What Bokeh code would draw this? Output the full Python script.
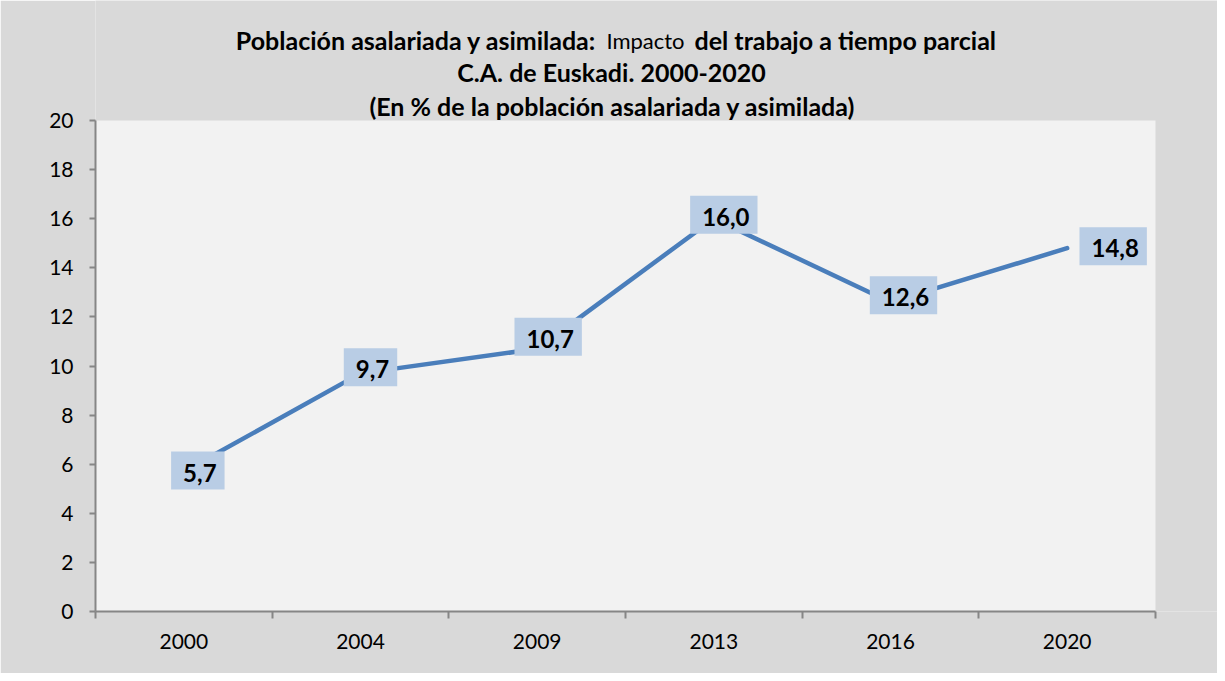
from bokeh.plotting import figure
from bokeh.models import Label, Range1d, FixedTicker
from bokeh.embed import file_html
from bokeh.resources import INLINE

# ---- data ----
years = ["2000", "2004", "2009", "2013", "2016", "2020"]
values = [5.7, 9.7, 10.7, 16.0, 12.6, 14.8]
y_ticks = [0, 2, 4, 6, 8, 10, 12, 14, 16, 18, 20]

title_a = "Población asalariada y asimilada:"
title_b = "Impacto"
title_c = "del trabajo a tiempo parcial"
title_2 = "C.A. de Euskadi. 2000-2020"
title_3 = "(En % de la población asalariada y asimilada)"

# ---- layout / style (pixels) ----
W, H = 1217, 673
BORDER_L, BORDER_B = 95, 62
PLOT_W, PLOT_H = 1060, 491          # size of the light plot area
label_dx = [14, 10, 11, 10, 13, 46]
label_dy = [1, 6, 12, 4, 7, 2]
FONT = "Lato"
AXIS_COLOR = "#868686"

xs = list(range(len(years)))
texts = [f"{v:.1f}".replace(".", ",") for v in values]

x0, x1 = -0.5, len(years) - 0.5
y0, y1 = y_ticks[0], y_ticks[-1]
frame_w, frame_h = W - BORDER_L, H - BORDER_B
x_end = x0 + (x1 - x0) * frame_w / PLOT_W
y_end = y0 + (y1 - y0) * frame_h / PLOT_H

p = figure(width=W, height=H, output_backend="svg", toolbar_location=None,
           x_range=Range1d(x0, x_end), y_range=Range1d(y0, y_end),
           min_border_left=BORDER_L, min_border_right=0, min_border_top=0,
           min_border_bottom=BORDER_B)
p.background_fill_color = "#d9d9d9"
p.border_fill_color = "#d9d9d9"
p.outline_line_color = None
p.xgrid.visible = False
p.ygrid.visible = False

# plot area background
p.quad(left=[x0], right=[x1], bottom=[y0], top=[y1],
       fill_color="#f2f2f2", line_color=None)

p.line(xs, values, line_color="#4a7ebb", line_width=4.5,
       line_cap="round", line_join="round")

# x axis: labels at centres, ticks at boundaries (minor ticks)
xa = p.xaxis[0]
xa.bounds = (x0, x1)
xa.ticker = FixedTicker(ticks=xs, minor_ticks=[i - 0.5 for i in range(len(years) + 1)])
xa.major_label_overrides = {i: y for i, y in zip(xs, years)}
xa.major_tick_out = 0
xa.major_tick_in = 0
xa.minor_tick_out = 7
xa.minor_tick_in = 0
xa.axis_line_color = AXIS_COLOR
xa.axis_line_width = 2
xa.minor_tick_line_color = AXIS_COLOR
xa.minor_tick_line_width = 2
xa.major_label_text_font = FONT
xa.major_label_text_font_size = "21px"
xa.major_label_text_color = "black"
xa.major_label_standoff = 15

ya = p.yaxis[0]
ya.bounds = (y0, y1)
ya.ticker = FixedTicker(ticks=y_ticks, minor_ticks=[])
ya.major_tick_out = 6
ya.major_tick_in = 0
ya.minor_tick_out = 0
ya.minor_tick_in = 0
ya.axis_line_color = AXIS_COLOR
ya.axis_line_width = 2
ya.major_tick_line_color = AXIS_COLOR
ya.major_tick_line_width = 2
ya.major_label_text_font = FONT
ya.major_label_text_font_size = "21px"
ya.major_label_text_color = "black"
ya.major_label_standoff = 16

# data labels
for x, y, t, dx, dy in zip(xs, values, texts, label_dx, label_dy):
    p.add_layout(Label(x=x, y=y, text=t, x_offset=dx, y_offset=dy,
                       text_align="center", text_baseline="middle",
                       text_font=FONT, text_font_style="bold",
                       text_font_size="24px", text_color="black",
                       background_fill_color="#b9cde5",
                       padding=(12, 8, 12, 8)))

# title (screen units relative to frame bottom-left)
def tlabel(text, x, y, align, size, style):
    p.add_layout(Label(x=x, y=y, x_units="screen", y_units="screen", text=text,
                       text_align=align, text_baseline="middle",
                       text_font=FONT, text_font_style=style,
                       text_font_size=size, text_color="black"))

tlabel(title_a, 501, 572, "right", "25px", "bold")
tlabel(title_b, 550, 571, "center", "22px", "normal")
tlabel(title_c, 599, 572, "left", "25px", "bold")
tlabel(title_2, 516, 540, "center", "25px", "bold")
tlabel(title_3, 517, 506, "center", "25px", "bold")

open("out.html", "w").write(file_html(p, INLINE))
